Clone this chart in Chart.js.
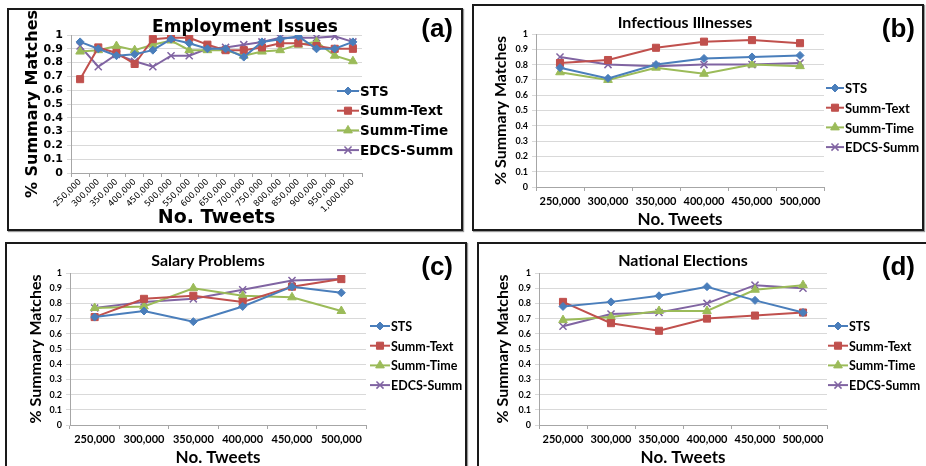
<!DOCTYPE html>
<html>
<head>
<meta charset="utf-8">
<script src="https://cdn.jsdelivr.net/npm/chart.js@4.4.1/dist/chart.umd.min.js"></script>
<style>
  body { margin: 0; background: #fff; width: 926px; height: 466px; overflow: hidden; position: relative; }
  .panel { position: absolute; box-sizing: border-box; border: 2px solid #1a1a1a; background: #fff; box-shadow: 1px 1px 1px #999; }
  .panel canvas { position: absolute; left: 0; top: 0; }
  .tag { position: absolute; font-family: "Liberation Sans", Arial, sans-serif; font-weight: bold; color: #000; line-height: 1; font-size: 26px; }
  .ttl { position: absolute; font-weight: bold; color: #000; line-height: 1; white-space: nowrap; transform: translate(-50%, -50%); }
</style>
</head>
<body>

<div class="panel" style="left:7px;top:8px;width:456px;height:223px;">
  <canvas id="chartA"></canvas>
  <div class="ttl" style="left:236px;top:16px;font-size:17px;font-family:'DejaVu Sans',Verdana,sans-serif;">Employment Issues</div>
  <div class="tag" style="right:8px;top:5px;">(a)</div>
</div>
<div class="panel" style="left:472px;top:4px;width:452px;height:227px;">
  <canvas id="chartB"></canvas>
  <div class="ttl" style="left:211px;top:16px;font-size:16px;font-family:Lato,sans-serif;">Infectious Illnesses</div>
  <div class="tag" style="right:7px;top:9px;">(b)</div>
</div>
<div class="panel" style="left:5px;top:242px;width:462px;height:240px;">
  <canvas id="chartC"></canvas>
  <div class="ttl" style="left:201px;top:16px;font-size:16px;font-family:Lato,sans-serif;">Salary Problems</div>
  <div class="tag" style="right:12px;top:9px;">(c)</div>
</div>
<div class="panel" style="left:477px;top:242px;width:460px;height:240px;">
  <canvas id="chartD"></canvas>
  <div class="ttl" style="left:204px;top:16px;font-size:16px;font-family:Lato,sans-serif;">National Elections</div>
  <div class="tag" style="right:20px;top:9px;">(d)</div>
</div>

<script>
// ---- data ----
const seriesNames = ['STS', 'Summ-Text', 'Summ-Time', 'EDCS-Summ'];

const tweetsLong = ['250,000', '300,000', '350,000', '400,000', '450,000', '500,000', '550,000', '600,000',
                    '650,000', '700,000', '750,000', '800,000', '850,000', '900,000', '950,000', '1,000,000'];
const tweetsShort = ['250,000', '300,000', '350,000', '400,000', '450,000', '500,000'];
const yTicks = [0, 0.1, 0.2, 0.3, 0.4, 0.5, 0.6, 0.7, 0.8, 0.9, 1];

// (a) Employment Issues
const empSTS  = [0.95, 0.90, 0.85, 0.86, 0.89, 0.97, 0.94, 0.90, 0.90, 0.84, 0.95, 0.97, 0.99, 0.90, 0.90, 0.95];
const empText = [0.68, 0.91, 0.87, 0.79, 0.97, 0.98, 0.98, 0.93, 0.89, 0.89, 0.91, 0.94, 0.94, 0.92, 0.90, 0.90];
const empTime = [0.88, 0.89, 0.92, 0.89, 0.93, 0.96, 0.89, 0.89, 0.89, 0.85, 0.88, 0.89, 0.93, 0.95, 0.85, 0.81];
const empEdcs = [0.92, 0.77, 0.86, 0.81, 0.77, 0.85, 0.85, 0.90, 0.91, 0.93, 0.95, 0.98, 0.98, 0.98, 0.99, 0.95];

// (b) Infectious Illnesses
const infSTS  = [0.78, 0.71, 0.80, 0.84, 0.85, 0.86];
const infText = [0.81, 0.83, 0.91, 0.95, 0.96, 0.94];
const infTime = [0.75, 0.70, 0.78, 0.74, 0.80, 0.79];
const infEdcs = [0.85, 0.80, 0.79, 0.80, 0.80, 0.81];

// (c) Salary Problems
const salSTS  = [0.71, 0.75, 0.68, 0.78, 0.91, 0.87];
const salText = [0.71, 0.83, 0.85, 0.81, 0.91, 0.96];
const salTime = [0.77, 0.78, 0.90, 0.85, 0.84, 0.75];
const salEdcs = [0.77, 0.81, 0.83, 0.89, 0.95, 0.96];

// (d) National Elections
const natSTS  = [0.78, 0.81, 0.85, 0.91, 0.82, 0.74];
const natText = [0.81, 0.67, 0.62, 0.70, 0.72, 0.74];
const natTime = [0.69, 0.71, 0.75, 0.75, 0.89, 0.92];
const natEdcs = [0.65, 0.73, 0.74, 0.80, 0.92, 0.90];

// ---- styles ----
const colors = ['#4a7ebb', '#c0504d', '#9bbb59', '#8064a2'];
const markers = ['rectRot', 'rect', 'triangle', 'crossRot'];
const markerSize = [4, 5, 5, 5];

function makeSets(lists) {
    return lists.map((d, i) => ({
        label: seriesNames[i],
        data: d,
        borderColor: colors[i],
        backgroundColor: colors[i],
        borderWidth: 2,
        pointStyle: markers[i],
        pointRadius: markerSize[i],
        pointBorderWidth: i === 3 ? 1.5 : 1,
        pointBorderColor: colors[i],
        pointBackgroundColor: colors[i],
        tension: 0
    }));
}

// excel style legend: short line with the marker in the middle
const sideLegend = {
    id: 'sideLegend',
    afterDraw(chart, args, opts) {
        const ctx = chart.ctx;
        ctx.save();
        chart.data.datasets.forEach((ds, i) => {
            const y = opts.y + i * opts.gap;
            ctx.strokeStyle = ds.borderColor;
            ctx.lineWidth = 2;
            ctx.beginPath();
            ctx.moveTo(opts.x, y);
            ctx.lineTo(opts.x + opts.len, y);
            ctx.stroke();
            ctx.fillStyle = ds.backgroundColor;
            ctx.lineWidth = i === 3 ? 1.5 : 1;
            Chart.helpers.drawPoint(ctx, { pointStyle: ds.pointStyle, radius: ds.pointRadius, rotation: 0, borderWidth: 1 },
                opts.x + opts.len / 2, y);
            ctx.fillStyle = '#000';
            ctx.font = opts.font;
            ctx.textBaseline = 'middle';
            ctx.fillText(ds.label, opts.x + opts.len + 1, y + 1);
        });
        ctx.restore();
    }
};

// cfg.plot = [left, top, right, bottom] of the plot area in canvas pixels,
// cfg.bottomGap = blank space under the x axis title
function buildChart(id, labels, lists, cfg) {
    const canvas = document.getElementById(id);
    const box = canvas.parentElement;
    const W = box.clientWidth, H = box.clientHeight;
    canvas.width = W;
    canvas.height = H;
    canvas.style.width = W + 'px';
    canvas.style.height = H + 'px';
    const fam = cfg.family;
    const [pl, pt, pr, pb] = cfg.plot;
    return new Chart(canvas, {
        type: 'line',
        data: { labels: labels, datasets: makeSets(lists) },
        plugins: [sideLegend],
        options: {
            responsive: false,
            animation: false,
            layout: { padding: { left: 0, top: pt, right: W - pr, bottom: cfg.bottomGap } },
            plugins: {
                legend: { display: false },
                tooltip: { enabled: false },
                title: { display: false },
                sideLegend: cfg.legend
            },
            scales: {
                x: {
                    offset: true,
                    afterFit: (axis) => { axis.height = H - cfg.bottomGap - pb; },
                    grid: { display: true, offset: true, drawOnChartArea: false, drawTicks: true, tickLength: 4, color: '#a6a6a6' },
                    border: { color: '#a6a6a6' },
                    ticks: {
                        color: '#000',
                        autoSkip: false,
                        minRotation: cfg.rot,
                        maxRotation: cfg.rot,
                        padding: cfg.xPad,
                        font: { family: fam, size: cfg.xSize, weight: cfg.xWeight }
                    },
                    title: {
                        display: true,
                        text: 'No. Tweets',
                        color: '#000',
                        padding: 0,
                        font: { family: fam, size: cfg.xTitleSize, weight: 'bold', lineHeight: 1.15 }
                    }
                },
                y: {
                    min: 0,
                    max: 1,
                    afterFit: (axis) => { axis.width = pl; },
                    afterBuildTicks: (axis) => { axis.ticks = yTicks.map(v => ({ value: v })); },
                    grid: { color: '#d9d9d9', lineWidth: 1, tickLength: 4, drawTicks: true },
                    border: { color: '#a6a6a6' },
                    ticks: {
                        color: '#000',
                        autoSkip: false,
                        padding: 4,
                        callback: (v) => String(v),
                        font: { family: fam, size: cfg.ySize, weight: 'bold' }
                    },
                    title: {
                        display: true,
                        text: '% Summary Matches',
                        color: '#000',
                        padding: { top: cfg.yTitleLeft, bottom: 0 },
                        font: { family: fam, size: cfg.yTitleSize, weight: 'bold', lineHeight: 1.15 }
                    }
                }
            }
        }
    });
}

const calibri = 'Lato, "Open Sans", sans-serif';

buildChart('chartA', tweetsLong, [empSTS, empText, empTime, empEdcs], {
    family: '"DejaVu Sans", Verdana, sans-serif',
    plot: [62, 25, 353, 163], bottomGap: 0,
    rot: 45, xPad: 0, xSize: 8.5, xWeight: 'normal', ySize: 11, xTitleSize: 19, yTitleSize: 16, yTitleLeft: 15,
    legend: { x: 328, y: 81, gap: 19.7, len: 22, font: 'bold 13.5px "DejaVu Sans", Verdana, sans-serif' }
});

const smallCfg = {
    family: calibri,
    rot: 0, xPad: 4, xSize: 11, xWeight: 'bold', ySize: 9, xTitleSize: 17, yTitleSize: 16
};

buildChart('chartB', tweetsShort, [infSTS, infText, infTime, infEdcs], Object.assign({}, smallCfg, {
    plot: [62, 28, 350, 181], bottomGap: 0, yTitleLeft: 18,
    legend: { x: 352, y: 82, gap: 19.7, len: 18, font: 'bold 13px Lato, "Open Sans", sans-serif' }
}));

buildChart('chartC', tweetsShort, [salSTS, salText, salTime, salEdcs], Object.assign({}, smallCfg, {
    plot: [63, 29, 359, 181], bottomGap: 13, yTitleLeft: 20,
    legend: { x: 363, y: 82, gap: 19.7, len: 20, font: 'bold 12.5px Lato, "Open Sans", sans-serif' }
}));

buildChart('chartD', tweetsShort, [natSTS, natText, natTime, natEdcs], Object.assign({}, smallCfg, {
    plot: [60, 29, 348, 181], bottomGap: 13, yTitleLeft: 15,
    legend: { x: 349, y: 82, gap: 19.7, len: 20, font: 'bold 12.5px Lato, "Open Sans", sans-serif' }
}));
</script>
</body>
</html>
